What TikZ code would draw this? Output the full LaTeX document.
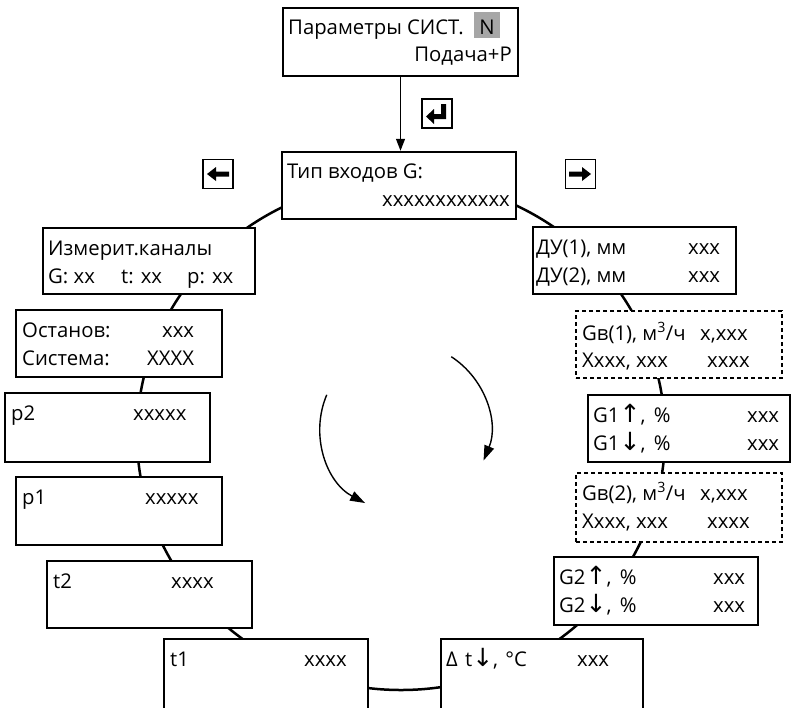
\documentclass[tikz,border=0pt]{standalone}
\usepackage{fontspec}
\setmainfont{Open Sans}
\newfontfamily\arrfont{DejaVu Sans}
\usetikzlibrary{arrows.meta,calc}
\newcommand{\ar}[1]{{\arrfont\fontsize{25}{26}\selectfont #1}}
\tikzset{
  box/.style={draw, line width=2.5pt, fill=white, inner sep=0pt},
  dbox/.style={box, dash pattern=on 4pt off 3pt},
  txt/.style={inner sep=0pt, anchor=base west, font=\fontsize{20.3}{26}\selectfont},
  txr/.style={txt, anchor=base east},
  keybox/.style={draw, line width=1.4pt, inner sep=0pt, minimum width=30pt, minimum height=29pt},
  ring/.style={line width=2.5pt},
  turn/.style={line width=1.4pt, -{Triangle[length=15pt,width=10pt]}},
  mainarrow/.style={line width=1.3pt, -{Triangle[length=12pt,width=9pt]}}
}
\begin{document}
\begin{tikzpicture}[x=1pt,y=-1pt]
\useasboundingbox (0,0) rectangle (791,707);
% ring behind the boxes
\draw[ring] (401,435) ellipse [x radius=264, y radius=255];
% boxes
\node[box, minimum width=235pt, minimum height=68pt] (par) at (400.5,42) {};
\node[box, minimum width=234pt, minimum height=67pt] (tip) at (399,185.5) {};
\node[box, minimum width=212pt, minimum height=66pt] (izm) at (149,261) {};
\node[box, minimum width=206pt, minimum height=67pt] (ost) at (119,343.5) {};
\node[box, minimum width=205pt, minimum height=69pt] (p2) at (107.5,427.5) {};
\node[box, minimum width=206pt, minimum height=68pt] (p1) at (119,511) {};
\node[box, minimum width=205pt, minimum height=67pt] (t2) at (149.5,594.5) {};
\node[box, minimum width=204pt, minimum height=81pt] (t1) at (266,679.5) {};
\node[box, minimum width=202pt, minimum height=81pt] (dt) at (542,679.5) {};
\node[box, minimum width=203pt, minimum height=67pt] (du) at (634.5,260.5) {};
\node[dbox, minimum width=206pt, minimum height=67pt] (gv1) at (679,344.5) {};
\node[box, minimum width=202pt, minimum height=67pt] (g1) at (689,428.5) {};
\node[dbox, minimum width=206pt, minimum height=69pt] (gv2) at (679,507.5) {};
\node[box, minimum width=204pt, minimum height=68pt] (g2) at (656,591) {};
% main arrow
\draw[mainarrow] (par.south) -- (par.south |- tip.north);
% key icons
\node[keybox] (kenter) at (437,113.5) {};
\fill (446,104) -- (446,119) -- (434,119) -- (434,124) -- (426,116.5) -- (434,109) -- (434,114) -- (441,114) -- (441,104) -- cycle;
\node[keybox] (kleft) at (218,174) {};
\fill (207,174) -- (216,167) -- (216,171.5) -- (229,171.5) -- (229,176.5) -- (216,176.5) -- (216,181) -- cycle;
\node[keybox] (kright) at (580.5,174) {};
\fill (591,174) -- (582,167) -- (582,171.5) -- (569,171.5) -- (569,176.5) -- (582,176.5) -- (582,181) -- cycle;
% turning arrows
\draw[turn] (405,428) ++(-157:85) arc[start angle=-157, end angle=-242, radius=85];
\draw[turn] (405,428) ++(-57:85) arc[start angle=-57, end angle=22.5, radius=85];
% texts
\node[txt] (tpar1) at (288,34) {Параметры СИСТ.};
\node[fill=black!35, inner sep=0pt, minimum width=26pt, minimum height=26pt] (nbg) at (487,25) {};
\node[txt, anchor=base] (tparN) at (487,34) {N};
\node[txr] (tpar2) at (512,61) {Подача+Р};
\node[txt] (ttip1) at (287,178) {Тип входов G:};
\node[txr] (ttip2) at (510,206) {xxxxxxxxxxxx};
\node[txt] (tizm1) at (48,255) {Измерит.каналы};
\node[txt] (tizm2) at (48,283) {G: xx};
\node[txt] (tizm3) at (121,283) {t: xx};
\node[txt] (tizm4) at (187,283) {p: xx};
\node[txt] (tost1) at (22,337) {Останов:};
\node[txt] (tost2) at (162,337) {xxx};
\node[txt] (tost3) at (22,365) {Система:};
\node[txt] (tost4) at (147,365) {XXXX};
\node[txt] (tp2a) at (11,420) {p2};
\node[txt] (tp2b) at (133,420) {xxxxx};
\node[txt] (tp1a) at (22,504) {p1};
\node[txt] (tp1b) at (145,504) {xxxxx};
\node[txt] (tt2a) at (53,588) {t2};
\node[txt] (tt2b) at (171,588) {xxxx};
\node[txt] (tt1a) at (170,666) {t1};
\node[txt] (tt1b) at (304,666) {xxxx};
\node[txt] (tdta) at (446,666) {Δ\hspace{2pt} t\ar{↓}, \hspace{2pt}°C};
\node[txt] (tdtb) at (577,666) {xxx};
\node[txt] (tdu1) at (536,254) {ДУ(1), мм};
\node[txt] (tdu2) at (688,254) {xxx};
\node[txt] (tdu3) at (536,282) {ДУ(2), мм};
\node[txt] (tdu4) at (688,282) {xxx};
\node[txt] (tgva) at (582,340) {Gв(1), м\textsuperscript{3}/ч};
\node[txt] (tgvb) at (700,340) {x,xxx};
\node[txt] (tgvc) at (582,367) {Xxxx, xxx};
\node[txt] (tgvd) at (707,367) {xxxx};
\node[txt] (tg1a) at (593,422) {G1\ar{↑}, \hspace{3pt}\%};
\node[txt] (tg1b) at (747,422) {xxx};
\node[txt] (tg1c) at (593,450) {G1\ar{↓}, \hspace{3pt}\%};
\node[txt] (tg1d) at (747,450) {xxx};
\node[txt] (tgwa) at (582,500) {Gв(2), м\textsuperscript{3}/ч};
\node[txt] (tgwb) at (700,500) {x,xxx};
\node[txt] (tgwc) at (582,528) {Xxxx, xxx};
\node[txt] (tgwd) at (707,528) {xxxx};
\node[txt] (tg2a) at (559,584) {G2\ar{↑}, \hspace{3pt}\%};
\node[txt] (tg2b) at (713,584) {xxx};
\node[txt] (tg2c) at (559,612) {G2\ar{↓}, \hspace{3pt}\%};
\node[txt] (tg2d) at (713,612) {xxx};
\end{tikzpicture}
\end{document}
